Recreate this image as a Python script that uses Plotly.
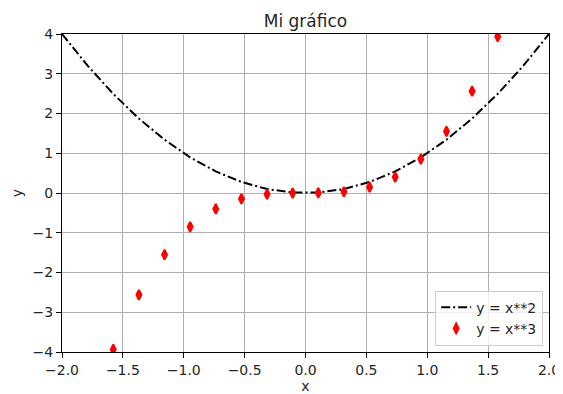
import plotly.graph_objects as go

x_vals = [-2.0, -1.7895, -1.5789, -1.3684, -1.1579, -0.9474, -0.7368, -0.5263, -0.3158, -0.1053,
          0.1053, 0.3158, 0.5263, 0.7368, 0.9474, 1.1579, 1.3684, 1.5789, 1.7895, 2.0]
y_sq = [4.0, 3.2022, 2.4931, 1.8726, 1.3407, 0.8975, 0.5429, 0.2770, 0.0997, 0.0111,
        0.0111, 0.0997, 0.2770, 0.5429, 0.8975, 1.3407, 1.8726, 2.4931, 3.2022, 4.0]
y_cu = [-8.0, -5.7300, -3.9364, -2.5625, -1.5524, -0.8503, -0.4000, -0.1458, -0.0315, -0.0012,
        0.0012, 0.0315, 0.1458, 0.4000, 0.8503, 1.5524, 2.5625, 3.9364, 5.7300, 8.0]
x_ticks = [-2.0, -1.5, -1.0, -0.5, 0.0, 0.5, 1.0, 1.5, 2.0]
x_tick_labels = ["\u22122.0", "\u22121.5", "\u22121.0", "\u22120.5", "0.0", "0.5", "1.0", "1.5", "2.0"]
y_ticks = [-4, -3, -2, -1, 0, 1, 2, 3, 4]
y_tick_labels = ["\u22124", "\u22123", "\u22122", "\u22121", "0", "1", "2", "3", "4"]

FONT = "DejaVu Sans"
TXT = "#262626"

fig = go.Figure()
fig.add_trace(go.Scatter(x=x_vals, y=y_sq, mode="lines", name="y = x**2",
                         line=dict(color="black", width=2, dash="9px,3px,2px,3px")))
fig.add_trace(go.Scatter(x=x_vals, y=y_cu, mode="markers", name="y = x**3",
                         marker=dict(symbol="diamond-tall", color="red", size=7,
                                     line=dict(width=2, color="red"))))

axis_common = dict(showline=True, linecolor="black", linewidth=1, mirror=True,
                   showgrid=True, gridcolor="#b0b0b0", gridwidth=1,
                   ticks="outside", ticklen=5, tickcolor="black", tickwidth=1,
                   zeroline=False, automargin=False,
                   tickfont=dict(family=FONT, size=14, color=TXT))

fig.update_xaxes(range=[-2, 2], tickvals=x_ticks, ticktext=x_tick_labels,
                 title=dict(text="x", font=dict(family=FONT, size=14, color=TXT), standoff=2),
                 **axis_common)
fig.update_yaxes(range=[-4, 4], tickvals=y_ticks, ticktext=y_tick_labels,
                 title=dict(text="y", font=dict(family=FONT, size=14, color=TXT), standoff=6),
                 **axis_common)

# page body has an 8px margin, so the figure is drawn at (8, 8)
fig.update_layout(
    width=555, height=386,
    margin=dict(l=54, r=14, t=26, b=42),
    paper_bgcolor="white", plot_bgcolor="white",
    title=dict(text="Mi gráfico", x=0.5, xref="paper", xanchor="center", y=1, yref="paper",
               yanchor="bottom", pad=dict(b=7), automargin=False,
               font=dict(family=FONT, size=17, color=TXT)),
    legend=dict(x=0.988, y=0.02, xanchor="right", yanchor="bottom",
                bordercolor="#cccccc", borderwidth=1, bgcolor="rgba(255,255,255,0.8)",
                font=dict(family=FONT, size=14, color=TXT),
                itemwidth=30, tracegroupgap=0),
    showlegend=True,
)

fig.write_html("out.html")
